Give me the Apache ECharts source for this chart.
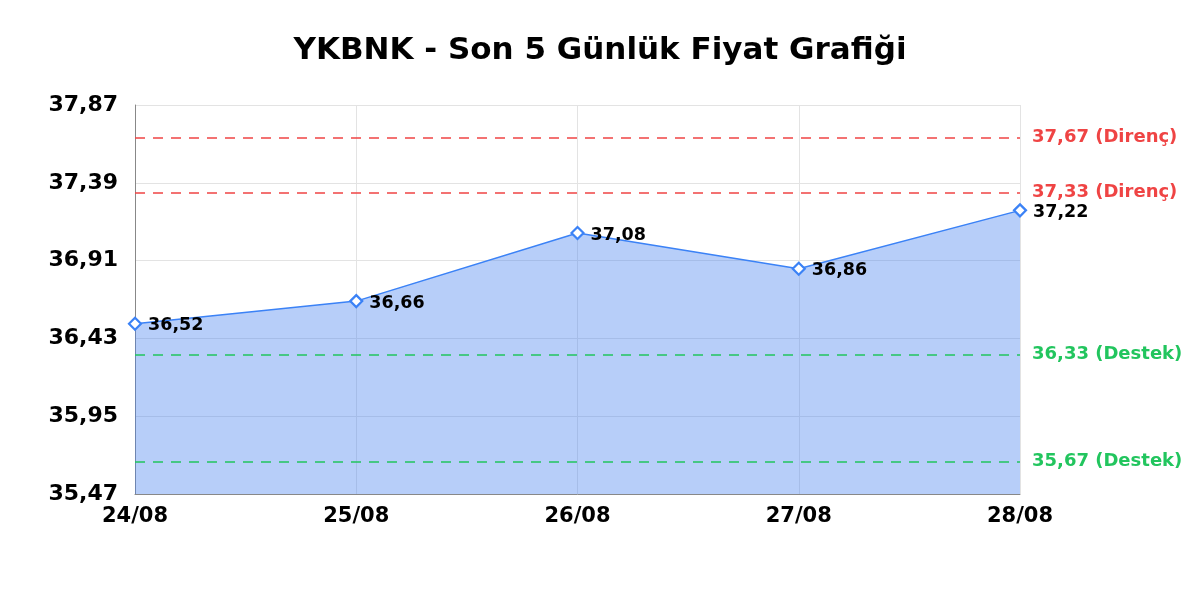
<!DOCTYPE html>
<html><head><meta charset="utf-8">
<script src="https://cdn.jsdelivr.net/npm/echarts@6/dist/echarts.min.js"></script>
<style>html,body{margin:0;padding:0;background:#fff}#c{width:1200px;height:600px}</style>
</head><body><div id="c"></div>
<script>
const categories = ['24/08','25/08','26/08','27/08','28/08'];
const prices = [36.52, 36.66, 37.08, 36.86, 37.22];
const resistance = [37.67, 37.33];
const support = [36.33, 35.67];
const yMin = 35.47, yMax = 37.87, yStep = 0.48;

const fmt = v => v.toFixed(2).replace('.', ',');
const F = 'DejaVu Sans';
const chart = echarts.init(document.getElementById('c'));
const lines = [];
resistance.forEach(v => lines.push({yAxis: v, lineStyle:{color:'#ef4444'}, label:{color:'#ef4444', formatter: fmt(v) + ' (Direnç)'}}));
support.forEach(v => lines.push({yAxis: v, lineStyle:{color:'#22c55e'}, label:{color:'#22c55e', formatter: fmt(v) + ' (Destek)'}}));

chart.setOption({
  animation:false,
  title:{text:'YKBNK - Son 5 Günlük Fiyat Grafiği', left:'center', top:30,
    textStyle:{fontFamily:F, fontSize:31, fontWeight:'bold', color:'#000'}},
  grid:{left:135, right:180, top:105, bottom:106},
  xAxis:{type:'category', data:categories, boundaryGap:false,
    axisLine:{lineStyle:{color:'#888'}}, axisTick:{show:false},
    axisLabel:{fontFamily:F, fontSize:21, fontWeight:'bold', color:'#000', margin:12},
    splitLine:{show:true, lineStyle:{color:'#e3e3e3'}}},
  yAxis:{type:'value', min:yMin, max:yMax, interval:yStep,
    axisLine:{show:true, lineStyle:{color:'#888'}}, axisTick:{show:false},
    axisLabel:{fontFamily:F, fontSize:22, fontWeight:'bold', color:'#000', margin:17, formatter: v => fmt(v)},
    splitLine:{lineStyle:{color:'#e3e3e3'}}},
  series:[{type:'line', data:prices, symbol:'diamond', symbolSize:12,
    itemStyle:{color:'#fff', borderColor:'#3b82f6', borderWidth:2.2},
    lineStyle:{color:'#3b82f6', width:1.5},
    areaStyle:{color:'rgba(70,130,240,0.39)', opacity:1},
    label:{show:true, position:'right', distance:6, offset:[0,2], fontFamily:F, fontSize:17.5, fontWeight:'bold', color:'#000', formatter: p => fmt(p.value)},
    markLine:{symbol:'none', silent:true,
      lineStyle:{type:[10,8], width:1.5},
      label:{position:'end', fontFamily:F, fontSize:18, fontWeight:'bold', distance:12},
      data: lines}
  }]
});
</script></body></html>
